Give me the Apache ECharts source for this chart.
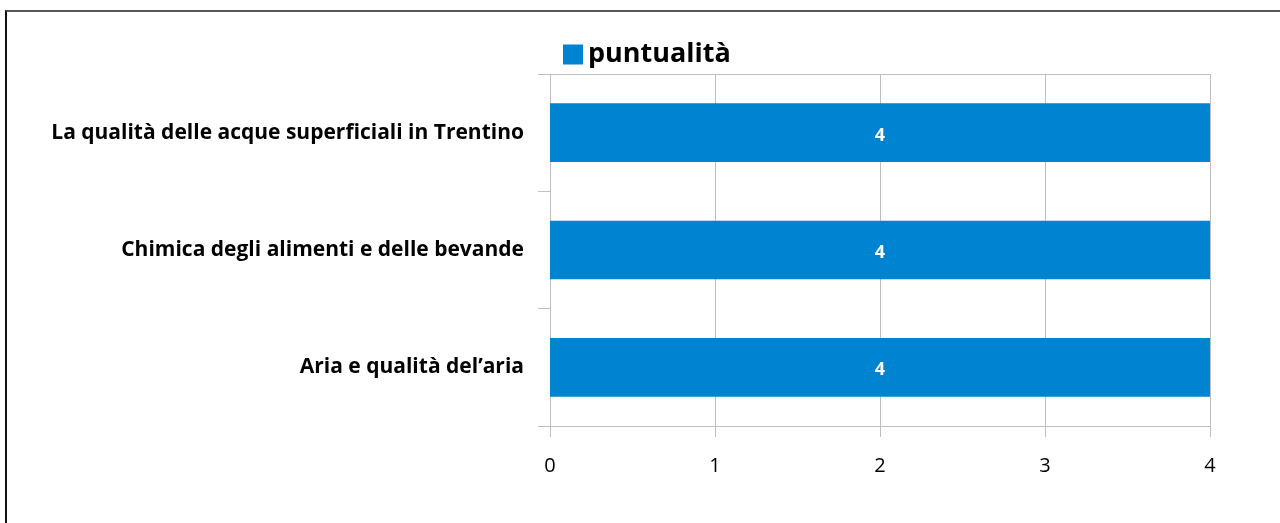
<!DOCTYPE html>
<html>
<head>
<meta charset="utf-8">
<script src="https://cdn.jsdelivr.net/npm/echarts@6/dist/echarts.min.js"></script>
<style>
html,body{margin:0;padding:0;background:#fff;}
#frame{position:absolute;left:5px;top:10px;width:1275px;height:513px;border-top:2px solid #555;border-left:2px solid #111;box-sizing:border-box;}
#chart{position:absolute;left:0;top:0;width:1280px;height:523px;}
</style>
</head>
<body>
<div id="frame"></div>
<div id="chart"></div>
<script>
var categories = ["Aria e qualità del\u2019aria", "Chimica degli alimenti e delle bevande", "La qualità delle acque superficiali in Trentino"];
var seriesName = "puntualità";
var values = [4, 4, 4];
var xTicks = [0, 1, 2, 3, 4];

var chart = echarts.init(document.getElementById('chart'), null, {renderer: 'canvas'});
var font = "'Open Sans', 'Noto Sans', sans-serif";
chart.setOption({
  backgroundColor: 'transparent',
  animation: false,
  legend: {
    data: [seriesName],
    left: 558, top: 36,
    itemWidth: 20, itemHeight: 20, itemGap: 8,
    icon: 'rect',
    textStyle: {fontFamily: font, fontWeight: 'bold', fontSize: 27, color: '#000'}
  },
  grid: {left: 550, right: 70, top: 74, bottom: 97, containLabel: false},
  xAxis: [{
    type: 'value', min: xTicks[0], max: xTicks[xTicks.length - 1], interval: 1,
    axisLine: {show: true, lineStyle: {color: '#bfbfbf', width: 1}},
    axisTick: {show: true, length: 11, lineStyle: {color: '#bfbfbf'}},
    splitLine: {show: true, lineStyle: {color: '#bfbfbf', width: 1}},
    axisLabel: {fontFamily: font, fontSize: 20, color: '#000', margin: 30}
  }, {
    type: 'value', position: 'top', min: xTicks[0], max: xTicks[xTicks.length - 1], interval: 1,
    axisLine: {show: true, lineStyle: {color: '#bfbfbf', width: 1}},
    axisTick: {show: false}, axisLabel: {show: false}, splitLine: {show: false}
  }],
  yAxis: {
    type: 'category', data: categories,
    axisLine: {show: true, lineStyle: {color: '#bfbfbf'}},
    axisTick: {show: true, length: 12, lineStyle: {color: '#bfbfbf'}},
    axisLabel: {fontFamily: font, fontWeight: 'bold', fontSize: 21, color: '#000', margin: 26, padding: [6, 0, 0, 0]}
  },
  series: [{
    name: seriesName, type: 'bar', data: values, xAxisIndex: 0,
    barCategoryGap: '50%',
    itemStyle: {color: '#0083d0'},
    label: {show: true, position: 'inside', offset: [0, 3], color: '#fff', fontFamily: font, fontWeight: 'bold', fontSize: 18}
  }]
});
</script>
</body>
</html>
